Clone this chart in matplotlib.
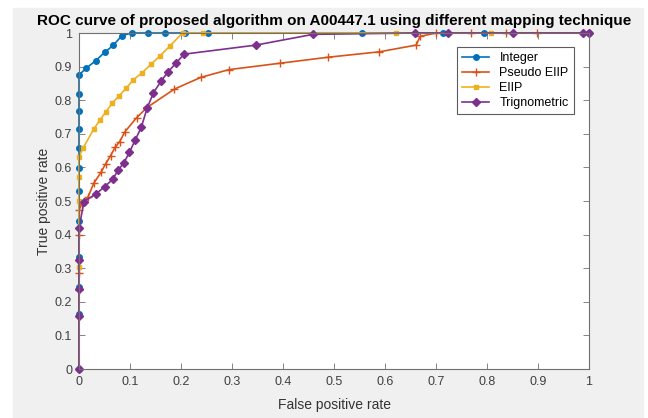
import matplotlib.pyplot as plt
from matplotlib.patches import Rectangle

# ROC points (false positive rate, true positive rate) for each mapping
int_fpr = [0, 0, 0, 0, 0, 0, 0, 0, 0, 0, 0, 0,
           0.014, 0.033, 0.05, 0.067, 0.084, 0.103, 0.136, 0.169,
           0.208, 0.253, 0.554, 0.714, 0.794, 1.0]
int_tpr = [0, 0.164, 0.245, 0.334, 0.44, 0.531, 0.597, 0.659, 0.714,
           0.768, 0.818, 0.875, 0.895, 0.918, 0.942, 0.963, 0.992, 1.0,
           1.0, 1.0, 1.0, 1.0, 1.0, 1.0, 1.0, 1.0]

pse_fpr = [0, 0, 0, 0, 0, 0.005, 0.018, 0.029, 0.043, 0.052, 0.062,
           0.071, 0.08, 0.09, 0.113, 0.134, 0.187, 0.239, 0.294, 0.394,
           0.489, 0.589, 0.661, 0.669, 0.70, 0.768, 0.837, 0.899, 1.0]
pse_tpr = [0, 0.235, 0.287, 0.40, 0.473, 0.49, 0.513, 0.553, 0.585,
           0.61, 0.635, 0.66, 0.677, 0.706, 0.748, 0.779, 0.833, 0.868,
           0.891, 0.91, 0.928, 0.944, 0.964, 0.99, 1.0, 1.0, 1.0, 1.0, 1.0]

eiip_fpr = [0, 0, 0, 0, 0, 0.0085, 0.029, 0.041, 0.053, 0.065, 0.078,
            0.092, 0.106, 0.124, 0.142, 0.159, 0.178, 0.203, 0.244,
            0.622, 0.807, 1.0]
eiip_tpr = [0, 0.305, 0.5, 0.572, 0.632, 0.659, 0.714, 0.741, 0.766,
            0.791, 0.812, 0.835, 0.86, 0.882, 0.908, 0.932, 0.961, 1.0,
            1.0, 1.0, 1.0, 1.0]

tri_fpr = [0, 0, 0, 0, 0, 0.0098, 0.033, 0.051, 0.066, 0.077, 0.088,
           0.099, 0.11, 0.122, 0.134, 0.146, 0.161, 0.175, 0.19, 0.206,
           0.347, 0.459, 0.659, 0.724, 0.85, 0.988, 1.0]
tri_tpr = [0, 0.158, 0.237, 0.324, 0.42, 0.498, 0.521, 0.543, 0.565,
           0.592, 0.614, 0.645, 0.681, 0.719, 0.778, 0.822, 0.857, 0.885,
           0.91, 0.937, 0.964, 0.996, 1.0, 1.0, 1.0, 1.0, 1.0]

tick_vals = [i / 10 for i in range(11)]
tick_text = ['0', '0.1', '0.2', '0.3', '0.4', '0.5', '0.6',
             '0.7', '0.8', '0.9', '1']

plt.rcParams['font.family'] = ['Liberation Sans', 'DejaVu Sans']

fig = plt.figure(figsize=(6.48, 4.18), dpi=100, facecolor='white')
# grey figure panel behind the axes
fig.patches.append(Rectangle((13 / 648, 0), 630 / 648, 410 / 418,
                             transform=fig.transFigure, color='#f0f0f0',
                             zorder=-1))
ax = fig.add_axes([79 / 648, 1 - 369 / 418, 510 / 648, 336 / 418])
ax.set_facecolor('white')

ax.plot(int_fpr, int_tpr, '-o', color='#0072BD', lw=1.2, ms=4,
        label='Integer', clip_on=False)
ax.plot(pse_fpr, pse_tpr, '-+', color='#D95319', lw=1.2, ms=5.5,
        mew=1.0, label='Pseudo EIIP', clip_on=False)
ax.plot(eiip_fpr, eiip_tpr, '-s', color='#EDB120', lw=1.2, ms=3.5,
        label='EIIP', clip_on=False)
ax.plot(tri_fpr, tri_tpr, '-D', color='#7E2F8E', lw=1.2, ms=3.8,
        label='Trignometric', clip_on=False)

ax.set_xlim(0, 1)
ax.set_ylim(0, 1)
ax.set_xticks(tick_vals)
ax.set_yticks(tick_vals)
ax.set_xticklabels(tick_text)
ax.set_yticklabels(tick_text)
ax.tick_params(direction='in', top=True, right=True, length=4,
               width=0.6, color='#707070', labelcolor='#404040',
               labelsize=9, pad=5)
for sp in ax.spines.values():
    sp.set_color('#707070')
    sp.set_linewidth(0.8)

ax.set_xlabel('False positive rate', fontsize=10, color='#333333',
              labelpad=7)
ax.set_ylabel('True positive rate', fontsize=10, color='#333333',
              labelpad=3)
ax.set_title('ROC curve of proposed algorithm on A00447.1 using different '
             'mapping technique', fontsize=11, fontweight='bold', pad=6)

leg = ax.legend(loc='upper right', bbox_to_anchor=(0.97, 0.958),
                borderaxespad=0, fancybox=False, fontsize=9,
                handlelength=2.2, labelspacing=0.25, borderpad=0.4)
leg.get_frame().set_edgecolor('#333333')
leg.get_frame().set_linewidth(0.8)

fig.savefig('out.png', dpi=100, facecolor=fig.get_facecolor())
